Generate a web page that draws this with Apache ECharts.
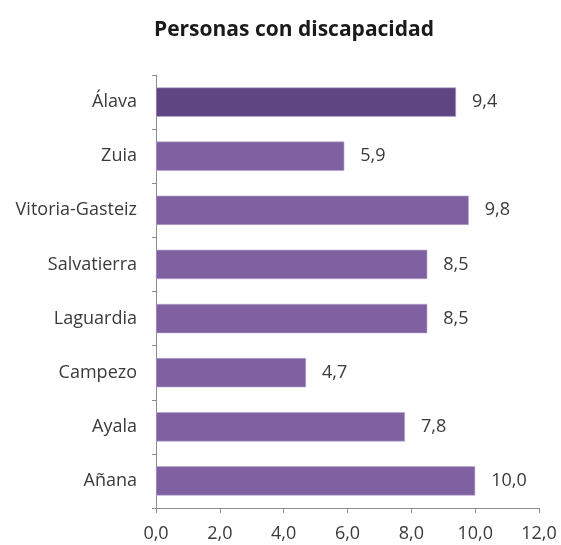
<!DOCTYPE html>
<html>
<head>
<meta charset="utf-8">
<script src="https://cdn.jsdelivr.net/npm/echarts@6/dist/echarts.min.js"></script>
<style>
  html, body { margin: 0; padding: 0; background: #ffffff; }
  #chart { width: 561px; height: 545px; }
</style>
</head>
<body>
<div id="chart"></div>
<script>
// Personas con discapacidad por cuadrilla
const titleText = 'Personas con discapacidad';
const categories = ['Álava', 'Zuia', 'Vitoria-Gasteiz', 'Salvatierra', 'Laguardia', 'Campezo', 'Ayala', 'Añana'];
const values = [9.4, 5.9, 9.8, 8.5, 8.5, 4.7, 7.8, 10.0];
const highlightCategory = 'Álava';
const xTicks = { min: 0, max: 12, interval: 2 };

const fmt = v => v.toFixed(1).replace('.', ',');
const fontFamily = '"Open Sans", "Liberation Sans", sans-serif';
const textColor = '#3a3a3a';
const axisColor = '#8c8c8c';

const chart = echarts.init(document.getElementById('chart'));
chart.setOption({
  animation: false,
  backgroundColor: '#ffffff',
  title: {
    text: titleText,
    left: 289,
    textAlign: 'center',
    top: 15,
    textStyle: { fontFamily: fontFamily, fontWeight: 'bold', fontSize: 21, color: '#1a1a1a' }
  },
  grid: { left: 156, right: 22, top: 75, bottom: 37, containLabel: false },
  xAxis: {
    type: 'value',
    min: xTicks.min,
    max: xTicks.max,
    interval: xTicks.interval,
    axisLine: { show: true, lineStyle: { color: axisColor, width: 1 } },
    axisTick: { show: true, length: 5, lineStyle: { color: axisColor } },
    splitLine: { show: false },
    axisLabel: {
      formatter: v => fmt(v),
      margin: 17,
      fontFamily: fontFamily,
      fontSize: 18,
      color: textColor
    }
  },
  yAxis: {
    type: 'category',
    data: categories,
    inverse: true,
    axisLine: { show: true, lineStyle: { color: axisColor, width: 1 } },
    axisTick: { show: true, length: 4, lineStyle: { color: axisColor } },
    axisLabel: {
      margin: 19,
      fontFamily: fontFamily,
      fontSize: 18,
      color: textColor
    }
  },
  series: [{
    type: 'bar',
    data: values.map((v, i) => ({
      value: v,
      itemStyle: { color: categories[i] === highlightCategory ? '#5f4682' : '#7f60a1' }
    })),
    barCategoryGap: '46%',
    itemStyle: { borderColor: '#b9a6cf', borderWidth: 0.6 },
    label: {
      show: true,
      position: 'right',
      distance: 16,
      formatter: p => fmt(p.value),
      fontFamily: fontFamily,
      fontSize: 18,
      color: textColor
    }
  }]
});
</script>
</body>
</html>
